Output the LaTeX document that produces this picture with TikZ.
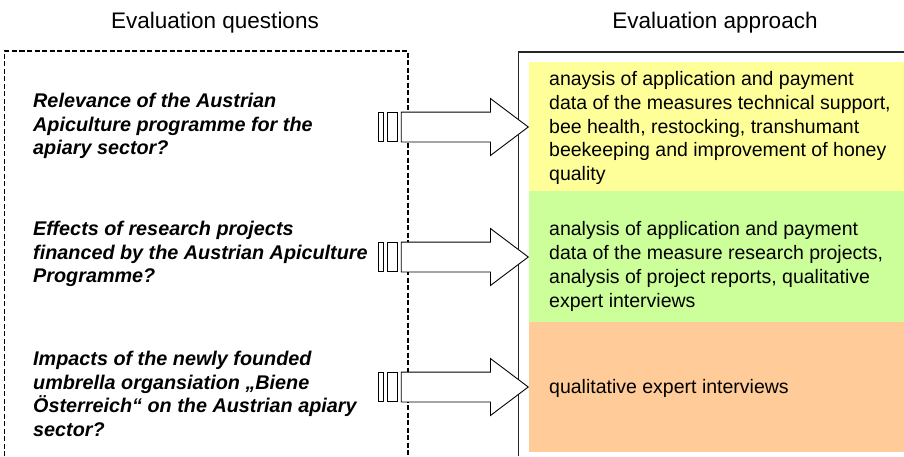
\documentclass[tikz,border=0pt]{standalone}
\usepackage{fontspec}
\setmainfont{Liberation Sans}
\usetikzlibrary{shapes.arrows,positioning}
\definecolor{approachyellow}{HTML}{FFFF99}
\definecolor{approachgreen}{HTML}{CCFF99}
\definecolor{approachorange}{HTML}{FFCC99}

\tikzset{
  title/.style={font=\fontsize{22.5}{27}\selectfont},
  question/.style={anchor=west,align=left,inner sep=0pt,font=\fontsize{19.8}{23.5}\selectfont\bfseries\itshape},
  approach/.style={anchor=west,align=left,inner sep=0pt,font=\fontsize{19.5}{23.8}\selectfont},
  blockarrow/.style={single arrow,draw,fill=white,line width=0.9pt,inner xsep=0pt,inner ysep=14.5pt,
    minimum height=127pt,single arrow head extend=13.5pt,single arrow tip angle=74,anchor=tip},
  bar/.style={draw,line width=0.9pt,minimum height=29pt,inner sep=0pt},
  questionframe/.style={line width=1.6pt,dash pattern=on 5pt off 2.5pt},
  approachframe/.style={line width=1.8pt,black!85}
}

\begin{document}
\begin{tikzpicture}[x=1pt,y=-1pt]
  \useasboundingbox (0,0) rectangle (904,456);

  \node[title]      (qtitle)  at (215,23)   {Evaluation questions};
  \node[title]      (atitle)  at (715,23)   {Evaluation approach};

  % frames and colour bands
  \draw[questionframe] (4.5,456) |- (408,51) -- (408,456);
  \fill[approachyellow] (529,62)  rectangle (904,191);
  \fill[approachgreen]  (529,191) rectangle (904,322);
  \fill[approachorange] (529,322) rectangle (904,452);
  \draw[approachframe] (518.5,456) |- (904,52);

  \node[question]   (q1)      at (33,126)   {Relevance of the Austrian\\Apiculture programme for the\\apiary sector?};
  \node[question]   (q2)      at (33,254)   {Effects of research projects\\financed by the Austrian Apiculture\\Programme?};
  \node[question]   (q3)      at (33,394)   {Impacts of the newly founded\\umbrella organsiation „Biene\\Österreich“ on the Austrian apiary\\sector?};

  \node[approach]   (a1)      at (549,128)  {anaysis of application and payment\\data of the measures technical support,\\bee health, restocking, transhumant\\beekeeping and improvement of honey\\quality};
  \node[approach]   (a2)      at (549,266.5) {analysis of application and payment\\data of the measure research projects,\\analysis of project reports, qualitative\\expert interviews};
  \node[approach]   (a3)      at (549,388)  {qualitative expert interviews};

  % arrows with their tail bars
  \foreach \i/\y in {1/127,2/257,3/387}{
    \node[blockarrow]                                 (arr\i)   at (529,\y) {};
    \node[bar,minimum width=10pt,left=3pt of arr\i.tail]  (bar\i b) {};
    \node[bar,minimum width=5pt,left=3pt of bar\i b]      (bar\i a) {};
  }
\end{tikzpicture}
\end{document}
